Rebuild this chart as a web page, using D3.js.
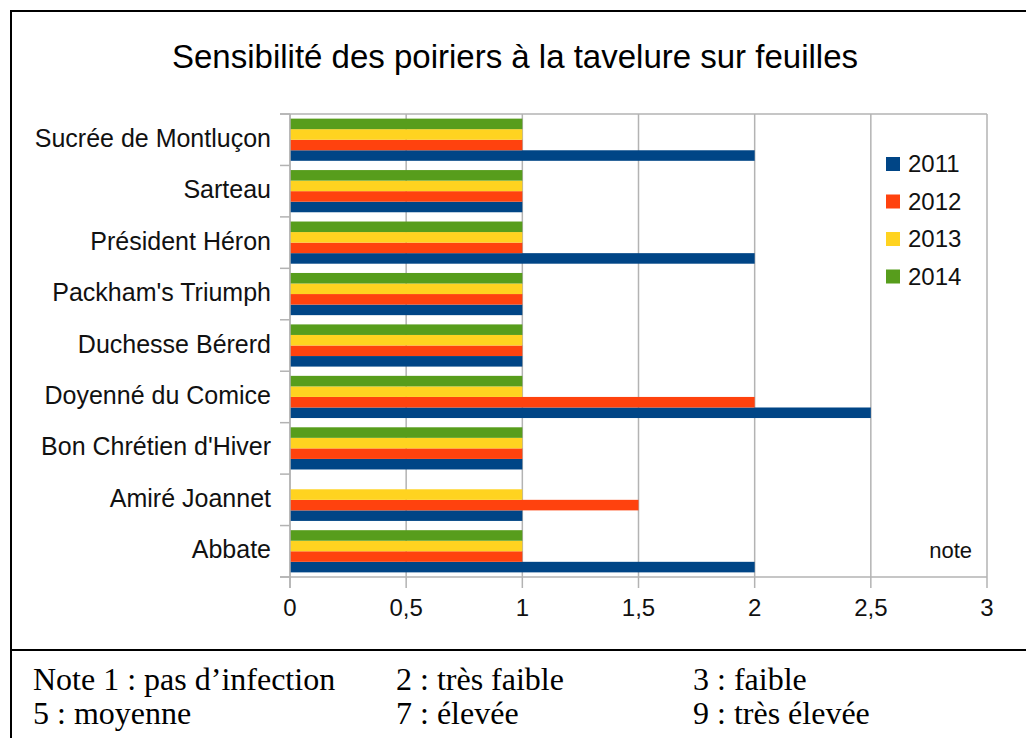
<!DOCTYPE html>
<html>
<head>
<meta charset="utf-8">
<script src="https://cdn.jsdelivr.net/npm/d3@7"></script>
<style>
  body { margin: 0; background: #fff; }
  svg { display: block; }
</style>
</head>
<body>
<svg></svg>
<script>
const varieties = ["Sucrée de Montluçon", "Sarteau", "Président Héron", "Packham's Triumph",
    "Duchesse Bérerd", "Doyenné du Comice", "Bon Chrétien d'Hiver", "Amiré Joannet", "Abbate"];
const years = ["2011", "2012", "2013", "2014"];
const colors = ["#004586", "#ff420e", "#ffd320", "#579d1c"];

// notes per year, same order as varieties (null = no bar)
const v2011 = [2, 1, 2, 1, 1, 2.5, 1, 1, 2];
const v2012 = [1, 1, 1, 1, 1, 2, 1, 1.5, 1];
const v2013 = [1, 1, 1, 1, 1, 1, 1, 1, 1];
const v2014 = [1, 1, 1, 1, 1, 1, 1, null, 1];
const series = [v2011, v2012, v2013, v2014];

const xTicks = [0, 0.5, 1, 1.5, 2, 2.5, 3];

const W = 1026, H = 738;
const svg = d3.select("svg").attr("width", W).attr("height", H);

const plot = { left: 290, right: 987, top: 114, bottom: 577 };

const x = d3.scaleLinear().domain([0, 3]).range([plot.left, plot.right]);
const y = d3.scaleBand().domain(varieties).range([plot.top, plot.bottom]).paddingInner(0.18).paddingOuter(0.09);
const yStep = y.step();
const ySub = d3.scaleBand().domain(years.slice().reverse()).range([0, y.bandwidth()]);

// frame
svg.append("line").attr("x1", 11).attr("x2", W).attr("y1", 11).attr("y2", 11)
    .attr("stroke", "#000").attr("stroke-width", 2);
svg.append("line").attr("x1", 11).attr("x2", 11).attr("y1", 10).attr("y2", H)
    .attr("stroke", "#000").attr("stroke-width", 2);
svg.append("line").attr("x1", 11).attr("x2", W).attr("y1", 650).attr("y2", 650)
    .attr("stroke", "#000").attr("stroke-width", 2);

// title
svg.append("text").attr("x", 515).attr("y", 68).attr("text-anchor", "middle")
    .style("font-family", "Liberation Sans, Arial, sans-serif").style("font-size", "33px")
    .text("Sensibilité des poiriers à la tavelure sur feuilles");

const grid = "#b3b3b3";

// vertical grid lines
svg.selectAll(".grid").data(xTicks).enter().append("line")
    .attr("x1", d => x(d)).attr("x2", d => x(d))
    .attr("y1", plot.top).attr("y2", plot.bottom + 11)
    .attr("stroke", grid).attr("stroke-width", 1.5);

// plot top and bottom lines
[plot.top, plot.bottom].forEach(v => {
    svg.append("line").attr("x1", plot.left - 10).attr("x2", plot.right)
        .attr("y1", v).attr("y2", v).attr("stroke", grid).attr("stroke-width", 1.5);
});

// y ticks between categories
const bounds = varieties.map((d, i) => plot.top + i * yStep).concat([plot.bottom]);
svg.selectAll(".ytick").data(bounds).enter().append("line")
    .attr("x1", plot.left - 10).attr("x2", plot.left)
    .attr("y1", d => d).attr("y2", d => d)
    .attr("stroke", grid).attr("stroke-width", 1.5);

// bars
series.forEach((vals, si) => {
    svg.append("g").selectAll("rect")
        .data(varieties.map((v, i) => ({ name: v, value: vals[i] })).filter(d => d.value != null))
        .enter().append("rect")
        .attr("x", x(0))
        .attr("y", d => y(d.name) + ySub(years[si]))
        .attr("width", d => x(d.value) - x(0))
        .attr("height", ySub.bandwidth())
        .attr("fill", colors[si]);
});

// y-axis line
svg.append("line").attr("x1", plot.left).attr("x2", plot.left)
    .attr("y1", plot.top).attr("y2", plot.bottom + 11)
    .attr("stroke", grid).attr("stroke-width", 1.5);

// category labels
svg.selectAll(".cat").data(varieties).enter().append("text")
    .attr("x", 271).attr("y", d => y(d) + y.bandwidth() / 2 - 2).attr("dy", "0.36em")
    .attr("text-anchor", "end").attr("fill", "#111")
    .style("font-family", "Liberation Sans, Arial, sans-serif").style("font-size", "25px")
    .text(d => d);

// x tick labels
svg.selectAll(".xl").data(xTicks).enter().append("text")
    .attr("x", d => x(d)).attr("y", 616).attr("text-anchor", "middle").attr("fill", "#111")
    .style("font-family", "Liberation Sans, Arial, sans-serif").style("font-size", "24px")
    .text(d => String(d).replace(".", ","));

// axis title
svg.append("text").attr("x", 972).attr("y", 558).attr("text-anchor", "end").attr("fill", "#111")
    .style("font-family", "Liberation Sans, Arial, sans-serif").style("font-size", "22px")
    .text("note");

// legend
const leg = svg.append("g");
years.forEach((yr, i) => {
    const cy = 164 + i * 37.5;
    leg.append("rect").attr("x", 886).attr("y", cy - 7).attr("width", 14).attr("height", 14)
        .attr("fill", colors[i]);
    leg.append("text").attr("x", 908).attr("y", cy + 8).attr("fill", "#111")
        .style("font-family", "Liberation Sans, Arial, sans-serif").style("font-size", "24px")
        .text(yr);
});

// notes under the chart
const noteCols = [33, 396, 693];
const noteRow1 = ["Note 1 : pas d’infection", "2 : très faible", "3 : faible"];
const noteRow2 = ["5 : moyenne", "7 : élevée", "9 : très élevée"];
[noteRow1, noteRow2].forEach((row, r) => {
    row.forEach((t, c) => {
        svg.append("text").attr("x", noteCols[c]).attr("y", 690 + r * 34)
            .style("font-family", "Liberation Serif, Times New Roman, serif").style("font-size", "32px")
            .text(t);
    });
});
</script>
</body>
</html>
